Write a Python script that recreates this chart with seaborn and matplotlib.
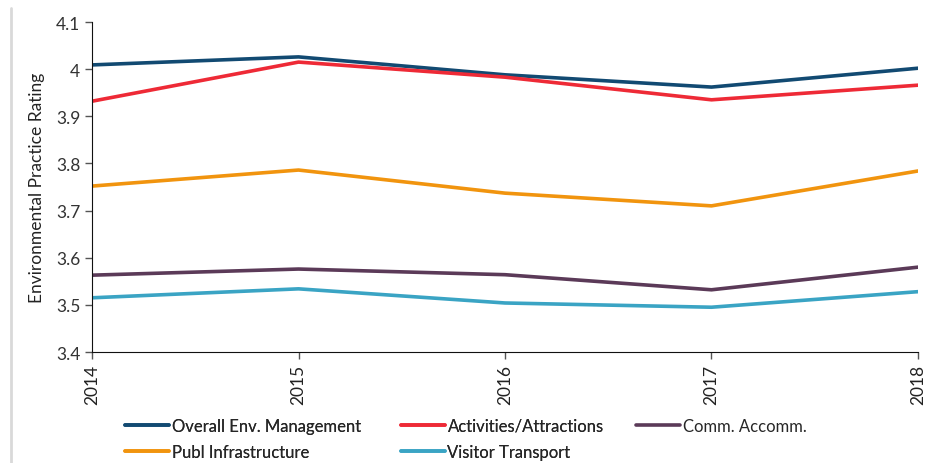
import numpy as np
import pandas as pd
import matplotlib.pyplot as plt
import seaborn as sns
from matplotlib.lines import Line2D

years = [2014, 2015, 2016, 2017, 2018]
overall = [4.009, 4.026, 3.988, 3.962, 4.002]
activities = [3.932, 4.015, 3.983, 3.935, 3.966]
accomm = [3.563, 3.576, 3.564, 3.532, 3.580]
infra = [3.752, 3.786, 3.737, 3.710, 3.784]
transport = [3.515, 3.534, 3.504, 3.495, 3.528]

series = {
    "Overall Env. Management": overall,
    "Activities/Attractions": activities,
    "Comm. Accomm.": accomm,
    "Publ Infrastructure": infra,
    "Visitor Transport": transport,
}
colors = {
    "Overall Env. Management": "#124A72",
    "Activities/Attractions": "#EE2A36",
    "Comm. Accomm.": "#5B3A58",
    "Publ Infrastructure": "#F1940E",
    "Visitor Transport": "#3AA4C4",
}

rows = []
for name, vals in series.items():
    for y, v in zip(years, vals):
        rows.append((y, name, v))
df = pd.DataFrame(rows, columns=["Year", "Series", "Rating"])

sns.set_style("white")
plt.rcParams["font.family"] = ["Lato", "DejaVu Sans"]

fig = plt.figure(figsize=(9.42, 4.64), dpi=100)
ax = fig.add_axes([0.0977, 0.2392, 0.8768, 0.7112])

sns.lineplot(data=df, x="Year", y="Rating", hue="Series", palette=colors,
             linewidth=2.6, ax=ax, legend=False)

ax.set_xlim(2014, 2018)
ax.set_ylim(3.4, 4.1)
ax.set_xticks(years)
ax.set_xticklabels([str(y) for y in years], rotation=90, fontsize=12.5, color="#222222")
ax.set_yticks([3.4, 3.5, 3.6, 3.7, 3.8, 3.9, 4.0, 4.1])
ax.set_yticklabels(["3.4", "3.5", "3.6", "3.7", "3.8", "3.9", "4", "4.1"], fontsize=12.5, color="#333333")
ax.set_xlabel("")
ax.set_ylabel("Environmental Practice Rating", fontsize=12.5, color="#222222", labelpad=8)
ax.tick_params(axis="both", direction="out", length=5, width=1, color="#555555", left=True, bottom=True)
ax.spines["top"].set_visible(False)
ax.spines["right"].set_visible(False)
ax.spines["left"].set_color("#111111")
ax.spines["bottom"].set_color("#111111")
ax.grid(False)


def make_handles(names):
    return [Line2D([0], [0], color=colors[n], linewidth=2.6) for n in names]


left_names = ["Overall Env. Management", "Publ Infrastructure",
              "Activities/Attractions", "Visitor Transport"]
leg1 = fig.legend(make_handles(left_names), left_names, loc="center left",
                  bbox_to_anchor=(125 / 942, 1 - 440 / 464), ncol=2, frameon=False,
                  fontsize=12, handlelength=2.65, handletextpad=0.15,
                  columnspacing=2.4, labelspacing=0.6, borderaxespad=0, borderpad=0)
fig.legend(make_handles(["Comm. Accomm."]), ["Comm. Accomm."], loc="center left",
           bbox_to_anchor=(636 / 942, 1 - 427 / 464), frameon=False,
           fontsize=12, handlelength=2.65, handletextpad=0.15,
           borderaxespad=0, borderpad=0)
fig.add_artist(leg1)

fig.add_artist(Line2D([0.012, 0.012], [0.0, 0.98], color="#d9d9d9", linewidth=2,
                      transform=fig.transFigure))

fig.savefig("out.png", dpi=100)
